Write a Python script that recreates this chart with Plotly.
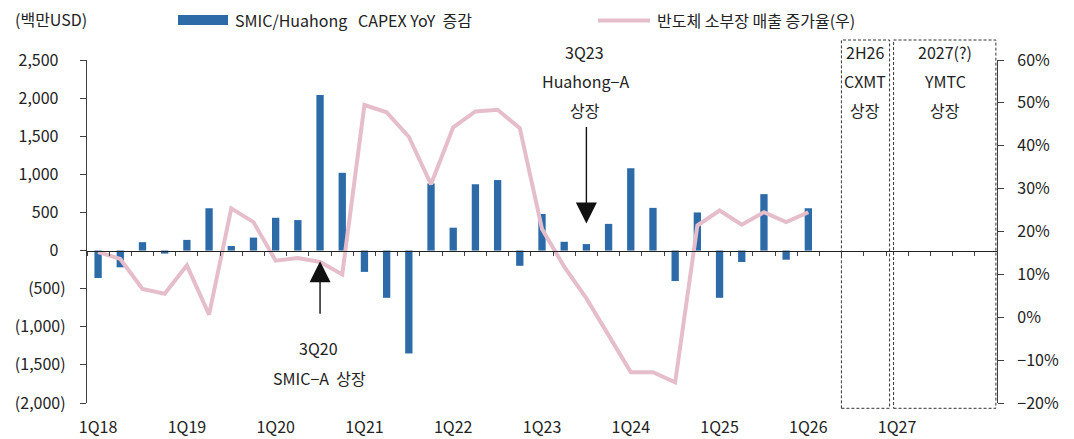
import plotly.graph_objects as go

# ---------------- data ----------------
quarters = [f"{q}Q{y:02d}" for y in range(18, 29) for q in range(1, 5)][:41]
capex_yoy = [-360, -220, 110, -40, 140, 555, 60, 170, 430, 400, 2040, 1020,
             -280, -620, -1350, 880, 300, 870, 925, -200, 480, 115, 85, 350,
             1080, 560, -400, 500, -620, -150, 740, -120, 555]
equip_growth = [15.2, 13.6, 6.6, 5.5, 12.1, 0.6, 25.4, 22.2, 13.2, 13.8, 12.9, 10.0,
                49.5, 47.8, 42.1, 31.0, 44.3, 48.0, 48.4, 44.1, 20.6, 11.8, 4.4, -4.0,
                -12.8, -12.8, -15.2, 21.4, 24.9, 21.6, 24.5, 22.2, 24.5]
x_tick_labels = ["1Q18", "1Q19", "1Q20", "1Q21", "1Q22", "1Q23", "1Q24", "1Q25", "1Q26", "1Q27"]
left_ticks = [2500, 2000, 1500, 1000, 500, 0, -500, -1000, -1500, -2000]
left_tick_text = ["2,500", "2,000", "1,500", "1,000", "500", "0",
                  "(500)", "(1,000)", "(1,500)", "(2,000)"]
right_ticks = [60, 50, 40, 30, 20, 10, 0, -10, -20]
right_tick_text = ["60%", "50%", "40%", "30%", "20%", "10%", "0%", "\u221210%", "\u221220%"]

bar_name = "SMIC/Huahong\u00a0\u00a0 CAPEX YoY\u00a0 증감"
line_name = "반도체 소부장 매출 증가율(우)"

FONT = "Noto Sans CJK KR"
TXT = "#222222"
BAR_C = "#2C6BA7"
LINE_C = "#E6BECB"
AX_C = "#404040"

PAD = "\u00a0\u00a0"  # trailing pad so positives align like accounting format
left_tick_text = [t if t.startswith("(") else t + PAD for t in left_tick_text]

idx_bar = list(range(len(capex_yoy)))
idx_line = list(range(len(equip_growth)))
tick_pos = [quarters.index(t) for t in x_tick_labels]
n = len(quarters)

fig = go.Figure()
fig.add_trace(go.Bar(x=idx_bar, y=capex_yoy, name=bar_name, marker=dict(color=BAR_C, line=dict(width=0)),
                     width=0.33, showlegend=False, xaxis="x", yaxis="y"))
fig.add_trace(go.Scatter(x=idx_line, y=equip_growth, name=line_name, mode="lines",
                         line=dict(color=LINE_C, width=4), showlegend=False, xaxis="x2", yaxis="y2"))

# the html page body has an 8px margin, so the figure is drawn 8px smaller and offset
xr = [-0.5, n - 0.5]
fig.update_layout(
    width=1066, height=431,
    margin=dict(l=79, r=77, t=52, b=36),
    paper_bgcolor="white", plot_bgcolor="white",
    font=dict(family=FONT, size=16, color=TXT),
    xaxis=dict(range=xr, tickvals=tick_pos, ticktext=x_tick_labels, ticks="", showline=False,
               showgrid=False, zeroline=False, ticklabelstandoff=13, automargin=False,
               tickfont=dict(size=16, color=TXT)),
    xaxis2=dict(range=xr, overlaying="x", anchor="free", position=2000 / 4500, side="bottom",
                showline=True, linecolor="#222222", linewidth=1.3, ticks="outside", ticklen=4,
                tickwidth=1, tickcolor=AX_C, tickvals=[i - 0.5 for i in range(n + 1)],
                showticklabels=False, showgrid=False, zeroline=False, automargin=False),
    yaxis=dict(range=[-2000, 2500], tickvals=left_ticks, ticktext=left_tick_text, ticks="outside",
               ticklen=6, tickcolor=AX_C, showline=True, linecolor=AX_C, linewidth=1.3,
               showgrid=False, zeroline=False, ticklabelstandoff=11, automargin=False,
               tickfont=dict(size=16, color=TXT)),
    yaxis2=dict(range=[-20, 60], tickvals=right_ticks, ticktext=right_tick_text, overlaying="y",
                side="right", anchor="x", ticks="outside", ticklen=6, tickcolor=AX_C, showline=True,
                linecolor=AX_C, linewidth=1.3, showgrid=False, zeroline=False, ticklabelstandoff=10,
                automargin=False, tickfont=dict(size=16, color=TXT)),
)

def py(p):  # page pixel y -> paper y (plot area spans page y 60..403)
    return (403 - p) / 343

def px(p):  # page pixel x -> paper x (plot area spans page x 87..997)
    return (p - 87) / 910

shapes = []
# custom legend swatches
shapes.append(dict(type="rect", xref="paper", yref="paper", x0=px(178), x1=px(228), y0=py(25), y1=py(15),
                   fillcolor=BAR_C, line=dict(width=0)))
shapes.append(dict(type="line", xref="paper", yref="paper", x0=px(598), x1=px(650), y0=py(20.5), y1=py(20.5),
                   line=dict(color=LINE_C, width=4)))
# dashed boxes
for x0, x1 in [(33.49, 35.66), (35.84, 40.45)]:
    shapes.append(dict(type="rect", xref="x", yref="paper", x0=x0, x1=x1, y0=py(408.3), y1=py(40),
                       line=dict(color="#333333", width=1, dash="3px,2px"), fillcolor="rgba(0,0,0,0)"))
fig.update_layout(shapes=shapes)

ann = []
def text(xp, yp, s, anchor="center"):
    ann.append(dict(x=xp, y=py(yp), xref="paper", yref="paper", text=s, showarrow=False,
                    xanchor=anchor, yanchor="middle", font=dict(family=FONT, size=16, color=TXT)))

text(px(233), 20, bar_name, "left")
text(px(655), 20, line_name, "left")
text(px(51), 19, "(백만USD)")

text(px(584), 51.5, "3Q23")
text(px(585), 81, "Huahong\u2212A")
text(px(585), 110, "상장")
text(px(865), 51.5, "2H26")
text(px(865), 81, "CXMT")
text(px(865), 110, "상장")
text(px(945), 51.5, "2027(?)")
text(px(945), 81, "YMTC")
text(px(945), 110, "상장")
text(px(318), 348, "3Q20")
text(px(319), 378, "SMIC\u2212A\u00a0 상장")

# arrows
ann.append(dict(x=10, y=-140, xref="x", yref="y", ax=10, ay=-850, axref="x", ayref="y", text="",
                showarrow=True, arrowhead=2, arrowsize=3, arrowwidth=1.4, arrowcolor="#111111"))
ann.append(dict(x=22, y=355, xref="x", yref="y", ax=22, ay=1640, axref="x", ayref="y", text="",
                showarrow=True, arrowhead=2, arrowsize=3, arrowwidth=1.4, arrowcolor="#111111"))
fig.update_layout(annotations=ann)

fig.write_html("out.html")
